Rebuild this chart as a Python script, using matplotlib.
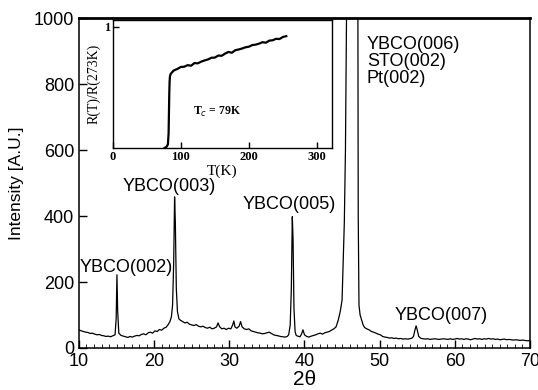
import numpy as np
import matplotlib
matplotlib.use("Agg")
import matplotlib.pyplot as plt
from matplotlib.ticker import MultipleLocator

# XRD scan of the YBCO film (2theta in degrees, intensity in A.U.)
two_theta = [10.0, 10.3, 10.6, 10.9, 11.2, 11.5, 11.8, 12.1, 12.4, 12.7, 13.0, 13.3, 13.6, 13.9,
             14.2, 14.5, 14.8, 14.95, 15.05, 15.15, 15.3, 15.6, 15.9, 16.2, 16.5, 16.8, 17.1,
             17.4, 17.7, 18.0, 18.3, 18.6, 18.9, 19.2, 19.5, 19.8, 20.1, 20.4, 20.7, 21.0, 21.3,
             21.6, 21.9, 22.1, 22.3, 22.45, 22.6, 22.72, 22.82, 22.95, 23.1, 23.3, 23.5, 23.8,
             24.1, 24.4, 24.7, 25.0, 25.3, 25.6, 25.9, 26.2, 26.5, 26.8, 27.1, 27.4, 27.7, 28.0,
             28.3, 28.5, 28.7, 29.0, 29.3, 29.6, 29.9, 30.2, 30.45, 30.6, 30.75, 31.0, 31.3, 31.5,
             31.7, 32.0, 32.3, 32.6, 32.9, 33.2, 33.5, 33.8, 34.1, 34.4, 34.7, 35.0, 35.3, 35.6,
             35.9, 36.2, 36.5, 36.8, 37.1, 37.4, 37.7, 37.9, 38.1, 38.25, 38.38, 38.48, 38.6,
             38.75, 38.9, 39.1, 39.4, 39.6, 39.8, 40.0, 40.3, 40.6, 40.9, 41.2, 41.5, 41.8, 42.1,
             42.4, 42.7, 43.0, 43.3, 43.6, 43.9, 44.2, 44.5, 44.75, 45.0, 45.15, 45.3, 45.45,
             45.6, 45.8, 46.1, 46.5, 46.8, 47.0, 47.1, 47.15, 47.25, 47.4, 47.6, 47.8, 48.0,
             48.3, 48.6, 48.9, 49.2, 49.5, 49.8, 50.1, 50.4, 50.7, 51.0, 51.3, 51.6, 51.9, 52.2,
             52.5, 52.8, 53.1, 53.4, 53.7, 54.0, 54.3, 54.5, 54.7, 54.85, 55.0, 55.2, 55.5, 55.8,
             56.1, 56.4, 56.7, 57.0, 57.3, 57.6, 57.9, 58.2, 58.5, 58.8, 59.1, 59.4, 59.7, 60.0,
             60.3, 60.6, 60.9, 61.2, 61.5, 61.8, 62.1, 62.4, 62.7, 63.0, 63.3, 63.6, 63.9, 64.2,
             64.5, 64.8, 65.1, 65.4, 65.7, 66.0, 66.3, 66.6, 66.9, 67.2, 67.5, 67.8, 68.1, 68.4,
             68.7, 69.0, 69.3, 69.6, 69.9]
intensity = [55, 52, 50, 48, 47, 44, 45, 42, 40, 41, 38, 37, 35, 36,
             34, 37, 40, 90, 222, 110, 45, 38, 36, 34, 32, 35, 33,
             36, 38, 37, 41, 43, 40, 46, 48, 45, 52, 50, 56, 54, 60,
             63, 72, 80, 95, 130, 260, 458, 380, 180, 110, 88, 84, 80,
             76, 78, 72, 70, 68, 71, 66, 64, 66, 62, 60, 63, 58, 60,
             64, 76, 65, 58, 60, 56, 60, 58, 70, 82, 64, 60, 66, 80,
             64, 58, 56, 58, 52, 50, 48, 46, 45, 43, 44, 46, 48, 44,
             40, 38, 37, 35, 34, 33, 35, 40, 70, 180, 398, 330, 120,
             50, 38, 36, 34, 42, 55, 40, 35, 33, 36, 38, 40, 43, 45,
             42, 46, 48, 50, 54, 58, 64, 85, 110, 145, 267, 380, 600,
             1000, 2000, 3500, 4500, 4000, 2000, 1100, 400, 130, 100, 85, 70, 62,
             58, 55, 50, 48, 45, 42, 40, 35, 33, 32, 30, 31, 29, 30,
             28, 29, 27, 28, 27, 28, 30, 35, 55, 67, 55, 35, 29, 28,
             27, 28, 26, 27, 28, 27, 26, 27, 28, 27, 26, 28, 26, 27,
             29, 27, 28, 26, 28, 27, 25, 27, 29, 27, 28, 26, 28, 27,
             29, 27, 28, 26, 27, 25, 26, 27, 25, 26, 25, 24, 25, 24,
             23, 24, 23, 22, 22]

# resistance vs temperature (inset)
temp_K = [76, 79, 81, 82, 82.5, 83, 83.5, 84, 85, 86.5, 88, 90, 95, 100, 105, 110, 115,
          120, 125, 130, 135, 140, 145, 150, 155, 160, 165, 170, 175, 180, 185, 190, 195,
          200, 205, 210, 215, 220, 225, 230, 235, 240, 245, 250, 255]
r_ratio = [0.0, 0.01, 0.03, 0.12, 0.28, 0.45, 0.55, 0.59, 0.61, 0.62, 0.63, 0.64, 0.652,
           0.668, 0.670, 0.683, 0.678, 0.700, 0.698, 0.712, 0.722, 0.730, 0.744, 0.745,
           0.762, 0.760, 0.778, 0.792, 0.785, 0.806, 0.812, 0.820, 0.830, 0.835, 0.848,
           0.852, 0.860, 0.872, 0.868, 0.885, 0.888, 0.900, 0.898, 0.915, 0.922]

peak_labels = ["YBCO(002)", "YBCO(003)", "YBCO(005)", "YBCO(007)",
               "YBCO(006)\nSTO(002)\nPt(002)"]
label_x = [10.1, 15.8, 31.8, 52.0, 48.3]
label_y = [245, 488, 436, 97, 945]

plt.rcParams['font.family'] = ['Liberation Sans', 'DejaVu Sans']

fig = plt.figure(figsize=(5.38, 3.9), dpi=100)
ax = fig.add_axes([0.1468, 0.1077, 0.8383, 0.846])
ax.plot(two_theta, intensity, color='black', lw=0.9)
ax.set_xlim(10, 70)
ax.set_ylim(0, 1000)
ax.xaxis.set_major_locator(MultipleLocator(10))
ax.xaxis.set_minor_locator(MultipleLocator(1))
ax.yaxis.set_major_locator(MultipleLocator(200))
ax.tick_params(direction='in', labelsize=13, width=1, top=False, right=False)
ax.tick_params(axis='x', which='major', length=6)
ax.tick_params(axis='x', which='minor', length=3, direction='in')
ax.tick_params(axis='y', which='major', length=6)
ax.set_xlabel('2θ', fontsize=15, labelpad=0)
ax.set_ylabel('Intensity [A.U.]', fontsize=12.5, labelpad=7)
for sp in ax.spines.values():
    sp.set_linewidth(1.1)
ax.spines['top'].set_linewidth(2)

for txt, x, y in zip(peak_labels, label_x, label_y):
    va = 'top' if '\n' in txt else 'center'
    ax.text(x, y, txt, fontsize=13, ha='left', va=va, linespacing=1.0)

# inset
ins = fig.add_axes([0.2097, 0.6205, 0.4071, 0.3282])
ins.plot(temp_K, r_ratio, color='black', lw=1.6)
ins.set_xlim(0, 322)
ins.set_ylim(0, 1.055)
ins.set_xticks([0, 100, 200, 300])
ins.set_yticks([1])
ins.tick_params(direction='in', length=4, width=1, pad=2)
for lab in ins.get_xticklabels() + ins.get_yticklabels():
    lab.set_family(['Liberation Serif', 'DejaVu Serif'])
    lab.set_fontsize(9)
    lab.set_fontweight('bold')
ins.set_xlabel('T(K)', fontsize=11, family=['Liberation Serif'], labelpad=1)
ins.set_ylabel('R(T)/R(273K)', fontsize=10, family=['Liberation Serif'], labelpad=2)
ins.text(118, 0.30, r'T$_c$ = 79K', fontsize=8.5, fontweight='bold',
         family=['Liberation Serif'], va='center')
for sp in ins.spines.values():
    sp.set_linewidth(1)

fig.savefig('out.png', dpi=100)
